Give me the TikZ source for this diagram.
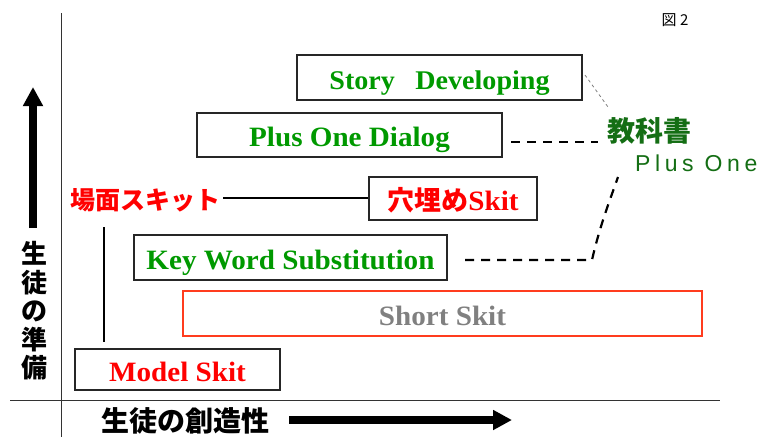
\documentclass[tikz,border=0pt]{standalone}
\usepackage{fontspec}
\setmainfont{Liberation Serif}
\newfontfamily\boxfont[FakeStretch=1.04]{Liberation Serif}
\newfontfamily\jp{Noto Sans CJK JP}
\newfontfamily\plusfont[LetterSpace=20]{Liberation Sans}
\usetikzlibrary{arrows.meta,calc}
\definecolor{tgreen}{RGB}{0,153,0}
\definecolor{dgreen}{RGB}{20,110,20}
\definecolor{tred}{RGB}{255,0,0}
\definecolor{tgray}{RGB}{128,128,128}
\definecolor{sred}{RGB}{255,60,30}
\tikzset{
  stagebox/.style={draw=black!85, line width=1.4pt, inner sep=0pt, text height=23.5pt, text depth=0pt, font=\boxfont\bfseries\fontsize{28}{28}\selectfont},
  axisline/.style={line width=1pt, black!80},
  bigarrow/.style={line width=7.5pt, -{Triangle[length=19pt,width=19pt]}},
  jplabel/.style={font=\jp\bfseries\fontsize{25}{25}\selectfont, inner sep=0pt},
  dashlink/.style={line width=2.2pt, dash pattern=on 9pt off 7pt},
}
\begin{document}
\begin{tikzpicture}[x=1pt,y=-1pt]
\useasboundingbox (0,0) rectangle (769,437);
% axes
\coordinate (vtop) at (61,13);
\coordinate (vbot) at (61,437);
\coordinate (hl) at (10,400);
\coordinate (hr) at (720,400);
\draw[axisline] (vtop) -- (vbot);
\draw[axisline] (hl) -- (hr);
% axis arrows
\coordinate (uas) at (33,228);
\coordinate (uae) at (33,87);
\draw[bigarrow] (uas) -- (uae);
\coordinate (ras) at (289,420);
\coordinate (rae) at (512,420);
\draw[bigarrow] (ras) -- (rae);
% axis labels
\node[font=\jp\bfseries\fontsize{26}{28.5}\selectfont, align=center, inner sep=0pt] (ylab) at (34,311) {生\\徒\\の\\準\\備};
\node[font=\jp\bfseries\fontsize{28}{28}\selectfont, inner sep=0pt] (xlab) at (185,421) {生徒の創造性};
\node[font=\jp\fontsize{15}{15}\selectfont, inner sep=0pt] (fig) at (675,20) {図 2};
% stage boxes
\node[stagebox, minimum width=205pt, minimum height=41pt, text=tred] (model) at (177.5,369.5) {Model Skit};
\node[stagebox, draw=sred, line width=1.6pt, minimum width=519pt, minimum height=45pt, text=tgray] (short) at (442.5,313.5) {Short Skit};
\node[stagebox, minimum width=313pt, minimum height=45pt, text=tgreen] (key) at (290.5,257.5) {Key Word Substitution};
\node[stagebox, minimum width=168pt, minimum height=43pt, text=tred] (ana) at (453,198.5) {{\jp\fontsize{27}{27}\selectfont 穴埋め}Skit};
\node[stagebox, minimum width=305pt, minimum height=44pt, text=tgreen] (dialog) at (349.5,135) {Plus One Dialog};
\node[stagebox, minimum width=285pt, minimum height=45pt, text=tgreen, font=\boxfont\bfseries\fontsize{27}{27}\selectfont] (story) at (439.5,77.5) {Story\hspace{0.5em} Developing};
% labels
\node[jplabel, text=tred, anchor=west] (scene) at (70,200) {場面スキット};
\node[font=\jp\bfseries\fontsize{28}{28}\selectfont, inner sep=0pt, text=dgreen, anchor=west] (text) at (607,131) {教科書};
\node[font=\plusfont\fontsize{23}{23}\selectfont, inner sep=0pt, text=dgreen, anchor=west] (plus) at (635,163) {Plus One};
% connectors
\draw[line width=2pt] (scene.east) ++(3,-2) coordinate (sc1) -- (ana.west |- sc1);
\coordinate (vl1) at (104,227);
\coordinate (vl2) at (104,342);
\draw[line width=2pt] (vl1) -- (vl2);
\coordinate (d1) at (511,142);
\draw[dashlink, shorten >=9pt] (d1) -- (text.west |- d1);
\coordinate (k1) at (465,260);
\coordinate (k2) at (592,260);
\coordinate (k3) at (618,177);
\draw[dashlink] (k1) -- (k2) .. controls (600,225) and (610,200) .. (k3);
\coordinate (s1) at (585,75);
\coordinate (s2) at (608,107);
\draw[gray, line width=0.8pt, dash pattern=on 3pt off 3pt] (s1) -- (s2);
\end{tikzpicture}
\end{document}
